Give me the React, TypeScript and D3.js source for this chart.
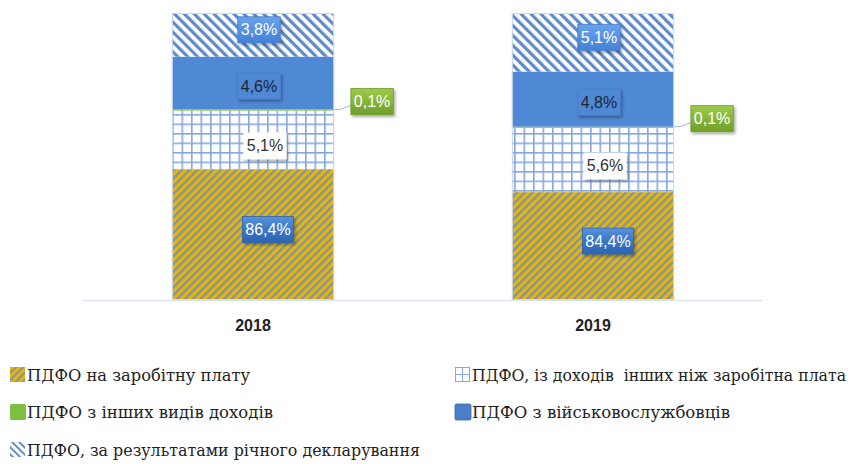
import React from "react";
import * as d3 from "d3";

const years = ["2018", "2019"];
const wage = [86.4, 84.4];
const otherIncome = [5.1, 5.6];
const otherTypes = [0.1, 0.1];
const military = [4.6, 4.8];
const declaration = [3.8, 5.1];
const seriesNames = [
  "ПДФО на заробітну плату",
  "ПДФО, із доходів  інших ніж заробітна плата",
  "ПДФО з інших видів доходів",
  "ПДФО з військовослужбовців",
  "ПДФО, за результатами річного декларування",
];
const yDomain = [75, 100];

const W = 858;
const H = 464;

const seriesKeys = ["wage", "otherIncome", "otherTypes", "military", "declaration"];
const seriesValues: Record<string, number[]> = { wage, otherIncome, otherTypes, military, declaration };

const fills: Record<string, string> = {
  wage: "url(#patWage)",
  otherIncome: "url(#patGrid)",
  otherTypes: "#7fbf3f",
  military: "#4f88d4",
  declaration: "url(#patDecl)",
};

const labelStyle: Record<string, { bg: string; fg: string; dx: number; dy: number; border: string }> = {
  wage: { bg: "url(#gBlueDark)", fg: "#ffffff", dx: 15, dy: -5, border: "#2f65ad" },
  otherIncome: { bg: "#ffffff", fg: "#333333", dx: 12, dy: 6, border: "#ffffff" },
  otherTypes: { bg: "url(#gGreen)", fg: "#ffffff", dx: 0, dy: 0, border: "#6f9a2c" },
  military: { bg: "#4f88d4", fg: "#1d2633", dx: 6, dy: 3, border: "#4a80c8" },
  declaration: { bg: "url(#gBlueLight)", fg: "#ffffff", dx: 6, dy: -5, border: "#3f7ccb" },
};

const fmt = (v: number) => d3.format(".1f")(v).replace(".", ",") + "%";

export default function App() {
  const x = d3.scaleBand<string>().domain(years).range([83, 763]).paddingInner(0.523).paddingOuter(0.2615);
  const y = d3.scaleLinear().domain(yDomain).range([300, 13]).clamp(true);

  const table = years.map((yr, i) => {
    const row: Record<string, any> = { year: yr };
    seriesKeys.forEach((k) => (row[k] = seriesValues[k][i]));
    return row;
  });
  const stacked = d3.stack<any>().keys(seriesKeys)(table);

  const legendItems = [
    { key: "wage", col: 0, row: 0, w: 223 },
    { key: "otherIncome", col: 1, row: 0, w: 374 },
    { key: "otherTypes", col: 0, row: 1, w: 246 },
    { key: "military", col: 1, row: 1, w: 258 },
    { key: "declaration", col: 0, row: 2, w: 393 },
  ];
  const legendX = [10, 455];
  const legendY = [375, 412, 450];

  return (
    <svg width={W} height={H} style={{ position: "absolute", left: 0, top: 0, background: "#fff" }}>
      <defs>
        <pattern id="patWage" width="5.5" height="5.5" patternUnits="userSpaceOnUse" patternTransform="rotate(45)">
          <rect width="5.5" height="5.5" fill="#ecb600" />
          <rect width="2.4" height="5.5" fill="#7f96a6" />
        </pattern>
        <pattern id="patDecl" width="7" height="7" patternUnits="userSpaceOnUse" patternTransform="rotate(-45)">
          <rect width="7" height="7" fill="#ffffff" />
          <rect width="3.2" height="7" fill="#5f8cc9" />
        </pattern>
        <pattern id="patGrid" width="9.5" height="9.5" patternUnits="userSpaceOnUse" x="172" y="0">
          <rect width="9.5" height="9.5" fill="#ffffff" />
          <rect width="1.6" height="9.5" fill="#86a8dc" />
          <rect width="9.5" height="1.6" fill="#86a8dc" />
        </pattern>
        <pattern id="patWageIcon" width="5" height="5" patternUnits="userSpaceOnUse" patternTransform="rotate(45)">
          <rect width="5" height="5" fill="#ecb600" />
          <rect width="2" height="5" fill="#7f96a6" />
        </pattern>
        <pattern id="patDeclIcon" width="5" height="5" patternUnits="userSpaceOnUse" patternTransform="rotate(-45)">
          <rect width="5" height="5" fill="#ffffff" />
          <rect width="2" height="5" fill="#5f8cc9" />
        </pattern>
        <linearGradient id="gBlueDark" x1="0" y1="0" x2="0" y2="1">
          <stop offset="0" stopColor="#5a93dc" />
          <stop offset="0.5" stopColor="#3a76c6" />
          <stop offset="1" stopColor="#2c65b3" />
        </linearGradient>
        <linearGradient id="gBlueLight" x1="0" y1="0" x2="0" y2="1">
          <stop offset="0" stopColor="#6aa2ea" />
          <stop offset="1" stopColor="#4382d8" />
        </linearGradient>
        <linearGradient id="gGreen" x1="0" y1="0" x2="0" y2="1">
          <stop offset="0" stopColor="#9ccb4c" />
          <stop offset="1" stopColor="#6f9f28" />
        </linearGradient>
        <filter id="shadow" x="-20%" y="-20%" width="150%" height="160%">
          <feDropShadow dx="1.5" dy="2" stdDeviation="1.4" floodColor="#000" floodOpacity="0.35" />
        </filter>
      </defs>

      {/* axis line */}
      <line x1={82} x2={763} y1={300.5} y2={300.5} stroke="#dbe4f3" strokeWidth={1.5} />

      {/* bars */}
      {stacked.map((layer) => (
        <g key={layer.key}>
          {layer.map((d, i) => {
            const x0 = x(years[i])!;
            const top = y(d[1]);
            const bot = y(d[0]);
            return (
              <rect
                key={i}
                x={x0}
                y={top}
                width={x.bandwidth()}
                height={Math.max(bot - top, 0.8)}
                fill={fills[layer.key]}
              />
            );
          })}
        </g>
      ))}
      {/* top borders */}
      {years.map((yr) => (
        <rect key={yr} x={x(yr)! + 0.5} y={y(100) + 0.5} width={x.bandwidth() - 1} height={y(75) - y(100) - 1}
          fill="none" stroke="#c9d8ee" strokeWidth={1} />
      ))}

      {/* labels */}
      {stacked.map((layer) =>
        layer.map((d, i) => {
          const st = labelStyle[layer.key];
          const v = seriesValues[layer.key][i];
          const text = fmt(v);
          const bw = text.length * 8.6 + 8;
          const bh = 26;
          let cx: number, cy: number;
          let leader: React.ReactNode = null;
          if (layer.key === "otherTypes") {
            const ex = x(years[i])! + x.bandwidth();
            const ey = y(d[1]);
            cx = ex + 38;
            cy = ey - 8;
            leader = (
              <polyline points={`${ex},${ey} ${ex + 6},${ey} ${cx - bw / 2},${cy + 4}`} fill="none" stroke="#9bb8e0" strokeWidth={1} />
            );
          } else {
            cx = x(years[i])! + x.bandwidth() / 2 + st.dx;
            cy = (y(d[0]) + y(d[1])) / 2 + st.dy;
          }
          return (
            <g key={layer.key + i}>
              {leader}
              <rect x={cx - bw / 2} y={cy - bh / 2} width={bw} height={bh} fill={st.bg} stroke={st.border}
                strokeWidth={0.8} filter="url(#shadow)" />
              <text x={cx} y={cy + 5.5} textAnchor="middle" fill={st.fg}
                fontFamily="'Liberation Sans', Arial, sans-serif" fontSize={16}>
                {text}
              </text>
            </g>
          );
        })
      )}

      {/* x axis labels */}
      {years.map((yr) => (
        <text key={yr} x={x(yr)! + x.bandwidth() / 2} y={331} textAnchor="middle" fill="#222"
          fontFamily="'Liberation Sans', Arial, sans-serif" fontSize={16} fontWeight={700}>
          {yr}
        </text>
      ))}

      {/* legend */}
      {legendItems.map((it) => {
        const idx = seriesKeys.indexOf(it.key);
        const lx = legendX[it.col];
        const ly = legendY[it.row];
        let icon: React.ReactNode;
        if (it.key === "wage") icon = <rect x={lx} y={ly - 8} width={15} height={15} fill="url(#patWageIcon)" />;
        else if (it.key === "declaration") icon = <rect x={lx} y={ly - 8} width={15} height={15} fill="url(#patDeclIcon)" />;
        else if (it.key === "otherIncome")
          icon = (
            <g>
              <rect x={lx + 0.5} y={ly - 7.5} width={14} height={14} fill="#fff" stroke="#86a8dc" />
              <line x1={lx + 7.5} x2={lx + 7.5} y1={ly - 7.5} y2={ly + 6.5} stroke="#86a8dc" />
              <line x1={lx + 0.5} x2={lx + 14.5} y1={ly - 0.5} y2={ly - 0.5} stroke="#86a8dc" />
            </g>
          );
        else if (it.key === "otherTypes") icon = <rect x={lx} y={ly - 8} width={16} height={16} rx={1.5} fill="#7fbf3f" />;
        else icon = <rect x={lx} y={ly - 8} width={16} height={16} rx={1.5} fill="#4a7fc8" stroke="#3b6aa8" strokeWidth={0.8} />;
        return (
          <g key={it.key}>
            {icon}
            <text x={lx + 17} y={ly + 6} fill="#222" textLength={it.w} lengthAdjust="spacingAndGlyphs"
              style={{ whiteSpace: "pre", fontFamily: "\"DejaVu Serif\", \"Liberation Serif\", serif", fontSize: "17px" }}>
              {seriesNames[idx]}
            </text>
          </g>
        );
      })}
    </svg>
  );
}
